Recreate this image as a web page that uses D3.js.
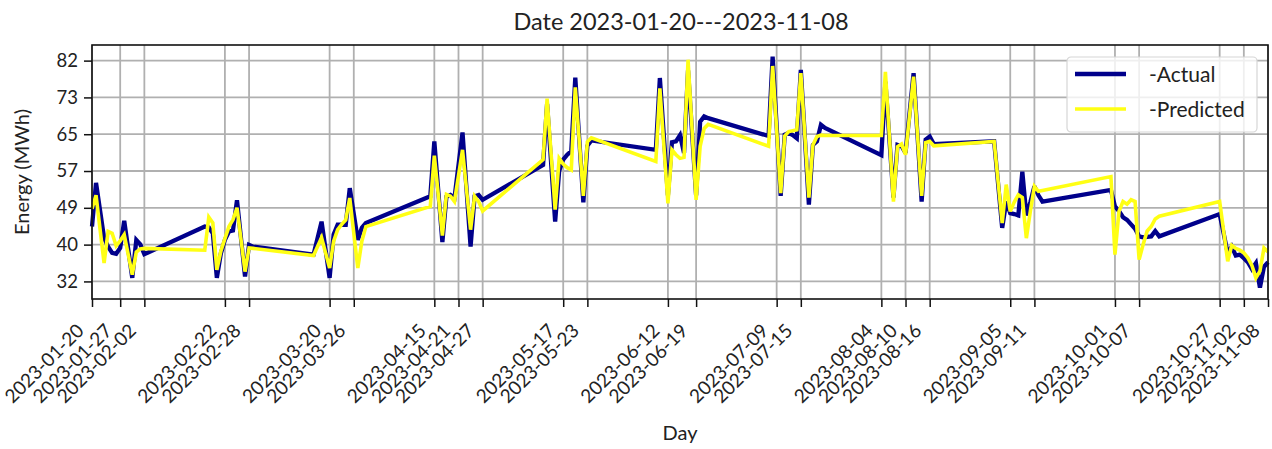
<!DOCTYPE html>
<html>
<head>
<meta charset="utf-8">
<script src="https://cdn.jsdelivr.net/npm/d3@7"></script>
<style>
  html, body { margin: 0; padding: 0; background: #fff; }
  svg { display: block; font-family: Lato, "Open Sans", sans-serif; }
</style>
</head>
<body>
<div id="chart"></div>
<script>
// Days in the test set (gaps are bridged by straight segments)
const dates = [
  "2023-01-20","2023-01-21","2023-01-23","2023-01-24","2023-01-25","2023-01-26","2023-01-27","2023-01-28","2023-01-30","2023-01-31","2023-02-01","2023-02-02",
  "2023-02-17","2023-02-18","2023-02-19","2023-02-20","2023-02-21","2023-02-22","2023-02-23","2023-02-24","2023-02-25","2023-02-27","2023-02-28","2023-03-01",
  "2023-03-16","2023-03-18","2023-03-20","2023-03-21","2023-03-22","2023-03-23","2023-03-24","2023-03-25","2023-03-27","2023-03-28","2023-03-29",
  "2023-04-14","2023-04-15","2023-04-17","2023-04-18","2023-04-19","2023-04-20","2023-04-22","2023-04-24","2023-04-25","2023-04-26","2023-04-27",
  "2023-05-12","2023-05-13","2023-05-15","2023-05-16","2023-05-17","2023-05-18","2023-05-19","2023-05-20","2023-05-22","2023-05-23","2023-05-24",
  "2023-06-09","2023-06-10","2023-06-12","2023-06-13","2023-06-14","2023-06-15","2023-06-16","2023-06-17","2023-06-19","2023-06-20","2023-06-21","2023-06-22",
  "2023-07-07","2023-07-08","2023-07-10","2023-07-11","2023-07-12","2023-07-13","2023-07-14","2023-07-15","2023-07-17","2023-07-18","2023-07-19","2023-07-20","2023-07-21",
  "2023-08-04","2023-08-05","2023-08-07","2023-08-08","2023-08-09","2023-08-10","2023-08-12","2023-08-14","2023-08-15","2023-08-16","2023-08-17",
  "2023-09-01","2023-09-03","2023-09-04","2023-09-05","2023-09-06","2023-09-07","2023-09-08","2023-09-09","2023-09-10","2023-09-11","2023-09-12","2023-09-13",
  "2023-09-30","2023-10-01","2023-10-02","2023-10-03","2023-10-04","2023-10-05","2023-10-06","2023-10-07","2023-10-08","2023-10-09","2023-10-10","2023-10-11","2023-10-12",
  "2023-10-27","2023-10-29","2023-10-30","2023-10-31","2023-11-01","2023-11-02","2023-11-03","2023-11-04","2023-11-05","2023-11-06","2023-11-07","2023-11-08"
];

const actual = [
  44.5, 54.3, 41.9, 40.0, 38.6, 38.4, 39.7, 45.8, 33.0, 41.5, 40.5, 38.3,
  44.5, 44.3, 43.0, 33.0, 38.5, 41.5, 43.4, 43.6, 50.4, 33.3, 40.4, 40.0,
  38.2, 45.6, 33.0, 42.7, 44.9, 44.9, 44.9, 53.1, 41.5, 44.2, 45.3,
  51.3, 63.6, 41.0, 51.2, 51.6, 50.9, 65.6, 40.0, 51.3, 51.6, 50.5,
  58.3, 72.0, 45.6, 57.0, 59.5, 60.6, 61.4, 77.9, 49.9, 62.6, 63.8,
  61.7, 77.8, 51.5, 63.4, 63.6, 65.0, 61.0, 79.5, 51.5, 68.0, 69.2, 68.8,
  64.8, 82.6, 51.4, 65.1, 65.5, 65.0, 64.3, 79.6, 49.4, 62.8, 63.6, 67.3, 66.6,
  60.5, 77.0, 51.0, 62.8, 62.5, 61.0, 78.9, 50.1, 64.0, 64.7, 63.0,
  63.6, 44.2, 50.1, 47.5, 47.3, 47.0, 56.8, 47.0, 50.0, 53.5, 51.5, 50.1,
  52.7, 49.0, 48.0, 46.6, 46.0, 45.0, 44.0, 42.3, 42.1, 42.2, 42.3, 43.5, 42.3,
  47.3, 38.5, 40.0, 38.0, 38.2, 37.4, 36.5, 35.0, 36.3, 30.8, 35.5, 36.5
];

const predicted = [
  48.5, 51.5, 36.3, 43.4, 43.0, 40.2, 41.3, 42.7, 33.7, 38.8, 39.5, 39.6,
  39.2, 46.6, 45.3, 34.8, 39.0, 41.8, 44.5, 46.0, 48.7, 34.4, 39.7, 39.6,
  38.0, 42.0, 35.2, 41.2, 43.8, 45.0, 46.0, 50.9, 35.2, 41.2, 44.5,
  49.0, 60.4, 42.5, 51.7, 51.3, 50.1, 61.7, 43.8, 51.3, 50.1, 48.0,
  59.5, 73.2, 48.3, 59.8, 58.5, 57.7, 57.2, 75.7, 51.4, 63.5, 64.4,
  59.1, 75.5, 49.7, 61.7, 60.6, 59.8, 60.0, 81.9, 50.5, 62.5, 66.5, 67.4,
  62.5, 80.5, 52.0, 64.8, 65.8, 66.0, 66.2, 78.9, 51.0, 62.8, 64.7, 65.0, 64.9,
  64.9, 79.2, 50.1, 62.4, 63.0, 60.6, 78.1, 51.4, 63.3, 63.6, 62.6,
  63.6, 45.3, 53.9, 47.9, 50.0, 51.6, 51.0, 41.9, 48.0, 53.5, 52.4, 52.6,
  55.7, 38.2, 47.9, 50.1, 49.5, 50.5, 50.1, 37.1, 40.5, 43.5, 44.5, 46.2, 46.8,
  50.1, 36.7, 40.3, 39.6, 39.2, 38.6, 37.5, 35.8, 33.0, 34.5, 39.7, 38.8
];

const xTickDates = [
  "2023-01-20","2023-01-27","2023-02-02","2023-02-22","2023-02-28","2023-03-20","2023-03-26",
  "2023-04-15","2023-04-21","2023-04-27","2023-05-17","2023-05-23","2023-06-12","2023-06-19",
  "2023-07-09","2023-07-15","2023-08-04","2023-08-10","2023-08-16","2023-09-05","2023-09-11",
  "2023-10-01","2023-10-07","2023-10-27","2023-11-02","2023-11-08"
];

// y ticks are evenly spaced, labelled rounded
const yTicks = [32.2, 40.45, 48.7, 56.95, 65.2, 73.45, 81.7];
const yDomain = [28.26, 85.2];

const seriesNames = ["-Actual", "-Predicted"];
const seriesColors = ["#00008b", "#ffff14"];
const titleText = "Date 2023-01-20---2023-11-08";

// Layout
const width = 1272, height = 449;
const plot = { left: 92, right: 1268, top: 45, bottom: 299 };

const parse = d3.utcParse("%Y-%m-%d");
const xDates = dates.map(parse);

const x = d3.scaleUtc()
  .domain([parse(dates[0]), parse(dates[dates.length - 1])])
  .range([plot.left, plot.right]);

const y = d3.scaleLinear()
  .domain(yDomain)
  .range([plot.bottom, plot.top]);

const svg = d3.select("#chart").append("svg")
  .attr("width", width)
  .attr("height", height)
  .attr("viewBox", [0, 0, width, height]);

svg.append("rect").attr("width", width).attr("height", height).attr("fill", "#fff");

// Grid
const grid = svg.append("g").attr("class", "grid")
  .attr("stroke", "#b0b0b0").attr("stroke-width", 1.8);
grid.selectAll("line.v")
  .data(xTickDates.map(parse))
  .join("line")
  .attr("class", "v")
  .attr("x1", d => x(d)).attr("x2", d => x(d))
  .attr("y1", plot.top).attr("y2", plot.bottom);
grid.selectAll("line.h")
  .data(yTicks)
  .join("line")
  .attr("class", "h")
  .attr("x1", plot.left).attr("x2", plot.right)
  .attr("y1", d => y(d)).attr("y2", d => y(d));

// Lines
const series = [actual, predicted];
const line = d3.line()
  .x((d, i) => x(xDates[i]))
  .y(d => y(d));

svg.append("g")
  .selectAll("path")
  .data(series)
  .join("path")
  .attr("d", d => line(d))
  .attr("fill", "none")
  .attr("stroke", (d, i) => seriesColors[i])
  .attr("stroke-width", (d, i) => i === 0 ? 4.3 : 3.6)
  .attr("stroke-linejoin", "miter")
  .attr("stroke-miterlimit", 3);

// Frame
svg.append("rect")
  .attr("x", plot.left).attr("y", plot.top)
  .attr("width", plot.right - plot.left)
  .attr("height", plot.bottom - plot.top)
  .attr("fill", "none")
  .attr("stroke", "#111")
  .attr("stroke-width", 1.6);

// X axis
const xAxis = d3.axisBottom(x)
  .tickValues(xTickDates.map(parse))
  .tickSize(8)
  .tickFormat("");
svg.append("g")
  .attr("transform", `translate(0,${plot.bottom})`)
  .call(xAxis)
  .call(g => g.select(".domain").remove())
  .call(g => g.selectAll(".tick line").attr("stroke", "#111").attr("stroke-width", 1.5));

svg.append("g")
  .selectAll("text")
  .data(xTickDates)
  .join("text")
  .attr("transform", d => `translate(${x(parse(d)) - 7},${332}) rotate(-45)`)
  .attr("text-anchor", "end")
  .attr("font-size", 19)
  .attr("fill", "#222")
  .text(d => d);

// Y axis
const yAxis = d3.axisLeft(y)
  .tickValues(yTicks)
  .tickSize(8)
  .tickPadding(6)
  .tickFormat(d3.format(".0f"));
svg.append("g")
  .attr("transform", `translate(${plot.left},0)`)
  .call(yAxis)
  .call(g => g.select(".domain").remove())
  .call(g => g.selectAll(".tick line").attr("stroke", "#111").attr("stroke-width", 1.5))
  .call(g => g.selectAll(".tick text")
    .attr("font-size", 18.5)
    .attr("font-family", "Lato, sans-serif")
    .attr("fill", "#222"));

// Titles
svg.append("text")
  .attr("x", 681)
  .attr("y", 30)
  .attr("text-anchor", "middle")
  .attr("font-size", 23.5)
  .attr("fill", "#222")
  .text(titleText);

svg.append("text")
  .attr("x", 680)
  .attr("y", 440)
  .attr("text-anchor", "middle")
  .attr("font-size", 20)
  .attr("fill", "#222")
  .text("Day");

svg.append("text")
  .attr("transform", `translate(29,${(plot.top + plot.bottom) / 2}) rotate(-90)`)
  .attr("text-anchor", "middle")
  .attr("font-size", 20)
  .attr("fill", "#222")
  .text("Energy (MWh)");

// Legend
const legend = svg.append("g").attr("transform", "translate(1067,57)");
legend.append("rect")
  .attr("width", 190).attr("height", 75)
  .attr("rx", 4)
  .attr("fill", "#fff").attr("fill-opacity", 0.8)
  .attr("stroke", "#d6d6d6").attr("stroke-width", 1.2);
const item = legend.selectAll("g.item")
  .data(seriesNames)
  .join("g")
  .attr("class", "item")
  .attr("transform", (d, i) => `translate(0,${17 + i * 35})`);
item.append("line")
  .attr("x1", 8).attr("x2", 59)
  .attr("stroke", (d, i) => seriesColors[i])
  .attr("stroke-width", (d, i) => i === 0 ? 4.3 : 3.6);
item.append("text")
  .attr("x", 82).attr("y", 8)
  .attr("font-size", 21)
  .attr("fill", "#222")
  .text(d => d);
</script>
</body>
</html>
